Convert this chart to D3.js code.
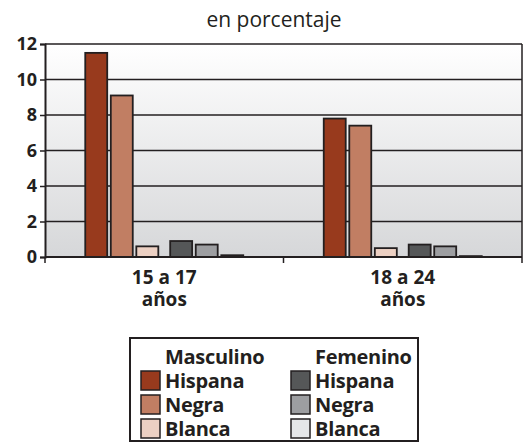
<!DOCTYPE html>
<html>
<head>
<meta charset="utf-8">
<script src="https://cdnjs.cloudflare.com/ajax/libs/d3/7.8.5/d3.min.js"></script>
<style>
  body { margin: 0; background: #fff; }
  text { font-family: "Open Sans", "Noto Sans", sans-serif; fill: #231f20; }
</style>
</head>
<body>
<svg width="526" height="443"></svg>
<script>
// data
var ages = ['15 a 17|años', '18 a 24|años'];
var sexes = ['Masculino', 'Femenino'];
var races = ['Hispana', 'Negra', 'Blanca'];
var masculino = [[11.5, 9.1, 0.6], [7.8, 7.4, 0.5]];
var femenino = [[0.9, 0.7, 0.1], [0.7, 0.6, 0.05]];
var yTicks = [0, 2, 4, 6, 8, 10, 12];

var colors = {
  Masculino: ['#983a1d', '#c17e63', '#ecd0c3'],
  Femenino: ['#555758', '#9d9ea1', '#e5e6e8']
};
var ink = '#231f20';

var svg = d3.select('svg');
var pLeft = 45, pRight = 522, pTop = 44, pBottom = 257;

var y = d3.scaleLinear().domain([0, 12]).range([pBottom, pTop]);
var x0 = d3.scaleBand().domain(ages).range([pLeft, pRight]);
var x1 = d3.scaleBand().domain(sexes).range([-79, 79]).paddingInner(0.14);
var x2 = d3.scaleBand().domain(races).range([0, x1.bandwidth()]).paddingInner(0.14);

// title
svg.append('text')
  .attr('x', 274).attr('y', 27)
  .attr('text-anchor', 'middle')
  .style('font-size', '21px')
  .text('en porcentaje');

// plot background
var grad = svg.append('defs').append('linearGradient')
  .attr('id', 'bg').attr('x1', 0).attr('y1', 0).attr('x2', 0).attr('y2', 1);
grad.append('stop').attr('offset', '0%').attr('stop-color', '#ffffff');
grad.append('stop').attr('offset', '100%').attr('stop-color', '#d6d7d9');

svg.append('rect')
  .attr('x', pLeft).attr('y', pTop)
  .attr('width', pRight - pLeft).attr('height', pBottom - pTop)
  .attr('fill', 'url(#bg)');

// grid lines
svg.selectAll('.grid')
  .data(yTicks.filter(function(d) { return d > 0; }))
  .enter()
  .append('line')
  .attr('x1', pLeft).attr('x2', pRight)
  .attr('y1', function(d) { return y(d); })
  .attr('y2', function(d) { return y(d); })
  .attr('stroke', ink).attr('stroke-width', 1.3);

// right border
svg.append('line')
  .attr('x1', pRight).attr('x2', pRight)
  .attr('y1', pTop).attr('y2', pBottom)
  .attr('stroke', ink).attr('stroke-width', 1.5);

// bars
var rows = [];
ages.forEach(function(a, i) {
  races.forEach(function(r, j) {
    rows.push({ age: a, sex: 'Masculino', race: r, j: j, v: masculino[i][j] });
  });
  races.forEach(function(r, j) {
    rows.push({ age: a, sex: 'Femenino', race: r, j: j, v: femenino[i][j] });
  });
});

svg.selectAll('rect.bar')
  .data(rows)
  .enter()
  .append('rect')
  .classed('bar', true)
  .attr('x', function(d) { return x0(d.age) + x0.bandwidth() / 2 + x1(d.sex) + x2(d.race); })
  .attr('y', function(d) { return y(d.v); })
  .attr('width', x2.bandwidth())
  .attr('height', function(d) { return pBottom - y(d.v); })
  .attr('fill', function(d) { return colors[d.sex][d.j]; })
  .attr('stroke', ink)
  .attr('stroke-width', 1.8);

// y axis
var yAxis = svg.append('g')
  .attr('transform', 'translate(' + pLeft + ',0)')
  .call(d3.axisLeft(y).tickValues(yTicks).tickSize(5).tickPadding(3));
yAxis.select('.domain').attr('stroke', ink).attr('stroke-width', 2);
yAxis.selectAll('.tick line').attr('stroke', ink).attr('stroke-width', 1.5);
yAxis.selectAll('.tick text')
  .style('font-size', '18px').style('font-weight', 'bold')
  .style('font-family', '"Open Sans", sans-serif').attr('fill', ink);

// x axis baseline + ticks at band edges
svg.append('line')
  .attr('x1', pLeft).attr('x2', pRight)
  .attr('y1', pBottom).attr('y2', pBottom)
  .attr('stroke', ink).attr('stroke-width', 2.2);

var edges = [pLeft].concat(ages.map(function(a) { return x0(a) + x0.bandwidth(); }));
svg.selectAll('.xtick')
  .data(edges)
  .enter()
  .append('line')
  .attr('x1', function(d) { return d; }).attr('x2', function(d) { return d; })
  .attr('y1', pBottom).attr('y2', pBottom + 6)
  .attr('stroke', ink).attr('stroke-width', 1.5);

var xl = svg.selectAll('.xlabel')
  .data(ages)
  .enter()
  .append('text')
  .attr('text-anchor', 'middle')
  .style('font-size', '19px').style('font-weight', 'bold');
xl.append('tspan')
  .attr('x', function(d) { return x0(d) + x0.bandwidth() / 2; })
  .attr('y', 284)
  .text(function(d) { return d.split('|')[0]; });
xl.append('tspan')
  .attr('x', function(d) { return x0(d) + x0.bandwidth() / 2; })
  .attr('y', 306)
  .text(function(d) { return d.split('|')[1]; });

// legend
var lg = svg.append('g');
lg.append('rect')
  .attr('x', 130).attr('y', 338)
  .attr('width', 288).attr('height', 103)
  .attr('fill', '#fff').attr('stroke', ink).attr('stroke-width', 2);

var colX = { Masculino: 141, Femenino: 291 };
sexes.forEach(function(s) {
  lg.append('text')
    .attr('x', colX[s] + 24).attr('y', 364)
    .style('font-size', '20px').style('font-weight', 'bold')
    .style('letter-spacing', '-0.3px')
    .text(s);
  races.forEach(function(r, j) {
    var yy = 371 + j * 24;
    lg.append('rect')
      .attr('x', colX[s]).attr('y', yy)
      .attr('width', 19).attr('height', 19)
      .attr('fill', colors[s][j])
      .attr('stroke', ink).attr('stroke-width', 1.5);
    lg.append('text')
      .attr('x', colX[s] + 24).attr('y', yy + 17)
      .style('font-size', '20px').style('font-weight', 'bold')
      .style('letter-spacing', '-0.3px')
      .text(r);
  });
});
</script>
</body>
</html>
